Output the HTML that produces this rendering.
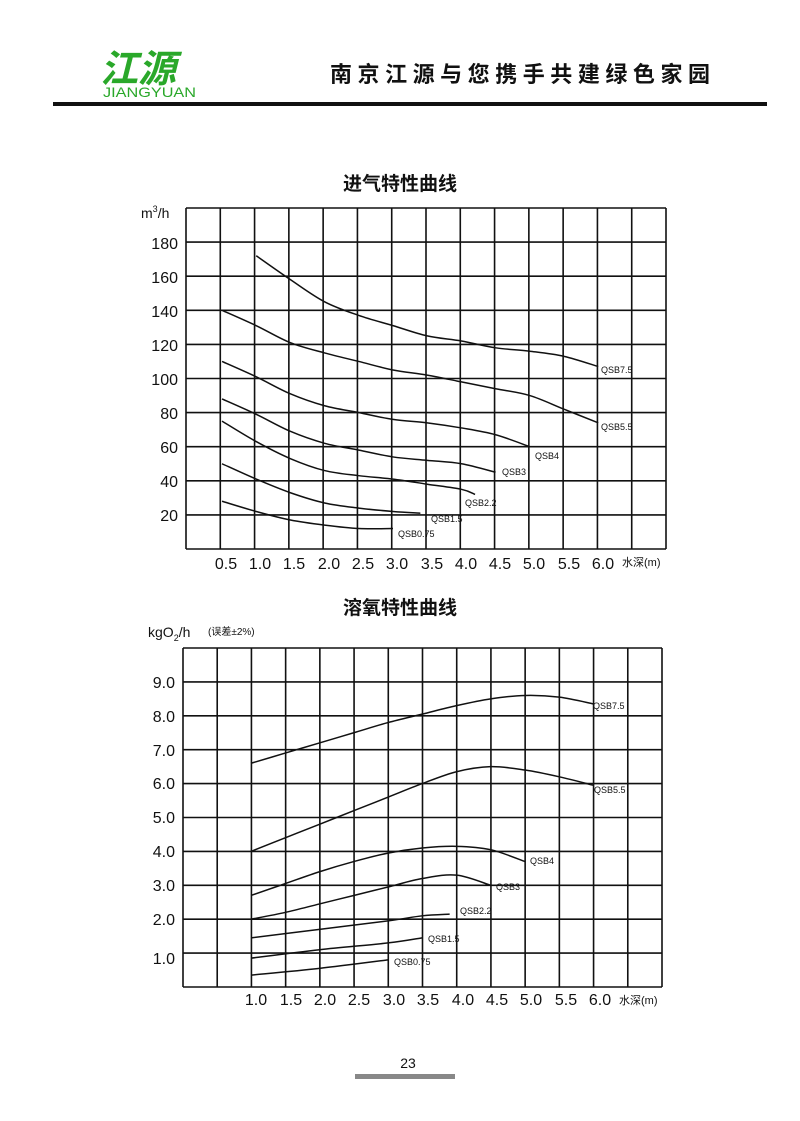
<!DOCTYPE html>
<html><head><meta charset="utf-8"><style>
body{margin:0;background:#fff;}
svg text{font-family:"Liberation Sans","Noto Sans CJK SC",sans-serif;fill:#111;}
</style></head><body>
<svg id="s" width="800" height="1116" xmlns="http://www.w3.org/2000/svg">
<text x="100" y="82" font-size="38" font-style="italic" font-weight="bold" style="fill:#2aa82a" font-family="Noto Serif CJK SC,serif">江源</text>
<text x="103" y="97" font-size="14" style="fill:#2aa82a" textLength="93" lengthAdjust="spacingAndGlyphs">JIANGYUAN</text>
<text x="330" y="82" font-size="22" font-weight="bold" font-family="Noto Serif CJK SC,serif" textLength="380" lengthAdjust="spacing">南京江源与您携手共建绿色家园</text>
<rect x="53" y="102" width="714" height="4" fill="#111"/>
<text x="400" y="190" font-size="19" font-weight="bold" text-anchor="middle">进气特性曲线</text>
<text x="400" y="614" font-size="19" font-weight="bold" text-anchor="middle">溶氧特性曲线</text>
<text x="141" y="218" font-size="14">m<tspan font-size="9" dy="-6">3</tspan><tspan dy="6">/h</tspan></text>
<g font-size="16" text-anchor="end">
<text x="178" y="249">180</text><text x="178" y="283">160</text><text x="178" y="317">140</text><text x="178" y="351">120</text><text x="178" y="385">100</text><text x="178" y="419">80</text><text x="178" y="453">60</text><text x="178" y="487">40</text><text x="178" y="521">20</text>
</g>
<g font-size="16" text-anchor="middle">
<text x="226" y="569">0.5</text><text x="260" y="569">1.0</text><text x="294" y="569">1.5</text><text x="329" y="569">2.0</text><text x="363" y="569">2.5</text><text x="397" y="569">3.0</text><text x="432" y="569">3.5</text><text x="466" y="569">4.0</text><text x="500" y="569">4.5</text><text x="534" y="569">5.0</text><text x="569" y="569">5.5</text><text x="603" y="569">6.0</text>
</g>
<text x="622" y="566" font-size="11">水深(m)</text>
<text x="148" y="637" font-size="14">kgO<tspan font-size="9" dy="4">2</tspan><tspan dy="-4">/h</tspan></text>
<text x="208" y="635" font-size="10">(误差±2%)</text>
<g font-size="16" text-anchor="end">
<text x="175" y="688">9.0</text><text x="175" y="722">8.0</text><text x="175" y="756">7.0</text><text x="175" y="789">6.0</text><text x="175" y="823">5.0</text><text x="175" y="857">4.0</text><text x="175" y="891">3.0</text><text x="175" y="925">2.0</text><text x="175" y="964">1.0</text>
</g>
<g font-size="16" text-anchor="middle">
<text x="256" y="1005">1.0</text><text x="291" y="1005">1.5</text><text x="325" y="1005">2.0</text><text x="359" y="1005">2.5</text><text x="394" y="1005">3.0</text><text x="428" y="1005">3.5</text><text x="463" y="1005">4.0</text><text x="497" y="1005">4.5</text><text x="531" y="1005">5.0</text><text x="566" y="1005">5.5</text><text x="600" y="1005">6.0</text>
</g>
<text x="619" y="1004" font-size="11">水深(m)</text>
<g font-size="9">
<text x="601" y="373">QSB7.5</text><text x="601" y="430">QSB5.5</text><text x="535" y="459">QSB4</text><text x="502" y="475">QSB3</text><text x="465" y="506">QSB2.2</text><text x="431" y="522">QSB1.5</text><text x="398" y="537">QSB0.75</text>
<text x="593" y="709">QSB7.5</text><text x="594" y="793">QSB5.5</text><text x="530" y="864">QSB4</text><text x="496" y="890">QSB3</text><text x="460" y="914">QSB2.2</text><text x="428" y="942">QSB1.5</text><text x="394" y="965">QSB0.75</text>
</g>
<text x="408" y="1068" font-size="14" text-anchor="middle">23</text>
<rect x="355" y="1074" width="100" height="5" fill="#888"/>
</svg>
<script>
var s=document.getElementById('s'),NS='http://www.w3.org/2000/svg';
function el(t,a){var e=document.createElementNS(NS,t);for(var k in a)e.setAttribute(k,a[k]);s.appendChild(e);}
function grid(x0,x1,nx,y0,y1,ny){var d='';for(var i=0;i<=nx;i++){var x=x0+(x1-x0)*i/nx;d+='M'+x+' '+y0+'V'+y1;}for(var j=0;j<=ny;j++){var y=y0+(y1-y0)*j/ny;d+='M'+x0+' '+y+'H'+x1;}el('path',{d:d,stroke:'#111','stroke-width':1.6,fill:'none'});}
grid(186,666,14,208,549,10);
grid(183,662,14,648,987,10);
function curve(pts,fx,fy){var p=pts.map(function(q){return [fx(q[0]),fy(q[1])];});var d='M'+p[0];for(var i=0;i<p.length-1;i++){var a=p[i-1]||p[i],b=p[i],c=p[i+1],e=p[i+2]||c;d+='C'+(b[0]+(c[0]-a[0])/6)+' '+(b[1]+(c[1]-a[1])/6)+' '+(c[0]-(e[0]-b[0])/6)+' '+(c[1]-(e[1]-b[1])/6)+' '+c[0]+' '+c[1];}el('path',{d:d,stroke:'#111','stroke-width':1.5,fill:'none'});}
var fx1=function(d){return 222+68.4*(d-0.5)},fy1=function(v){return 549-1.705*v};
[[[1,172],[1.5,158],[2,145],[2.5,137],[3,131],[3.5,125],[4,122],[4.5,118],[5,116],[5.5,113],[6,107]],
[[.5,140],[1,131],[1.5,121],[2,115],[2.5,110],[3,105],[3.5,102],[4,98],[4.5,94],[5,90],[5.5,82],[6,74]],
[[.5,110],[1,101],[1.5,91],[2,84],[2.5,80],[3,76],[3.5,74],[4,71],[4.5,67],[5,60]],
[[.5,88],[1,79],[1.5,69],[2,62],[2.5,58],[3,54],[3.5,52],[4,50],[4.5,45]],
[[.5,75],[1,63],[1.5,53],[2,46],[2.5,43],[3,41],[3.5,38],[4,35],[4.2,32]],
[[.5,50],[1,41],[1.5,33],[2,27],[2.5,24],[3,22],[3.4,21]],
[[.5,28],[1,22],[1.5,17],[2,14],[2.5,12],[3,12]]].forEach(function(c){curve(c,fx1,fy1)});
var fx2=function(d){return 251+68.5*(d-1)},fy2=function(v){return 987-33.9*v};
[[[1,6.6],[1.5,6.9],[2,7.2],[2.5,7.5],[3,7.8],[3.5,8.05],[4,8.3],[4.5,8.5],[5,8.6],[5.5,8.55],[6,8.35]],
[[1,4],[1.5,4.4],[2,4.8],[2.5,5.2],[3,5.6],[3.5,6],[4,6.35],[4.5,6.5],[5,6.4],[5.5,6.2],[6,5.95]],
[[1,2.7],[1.5,3.05],[2,3.4],[2.5,3.7],[3,3.95],[3.5,4.1],[4,4.15],[4.5,4.05],[5,3.7]],
[[1,2],[1.5,2.2],[2,2.45],[2.5,2.7],[3,2.95],[3.5,3.2],[4,3.3],[4.5,3.0]],
[[1,1.45],[2,1.7],[3,1.95],[3.5,2.1],[3.9,2.15]],
[[1,.85],[2,1.1],[3,1.3],[3.5,1.45]],
[[1,.35],[2,.55],[3,.8]]].forEach(function(c){curve(c,fx2,fy2)});
</script>
</body></html>
